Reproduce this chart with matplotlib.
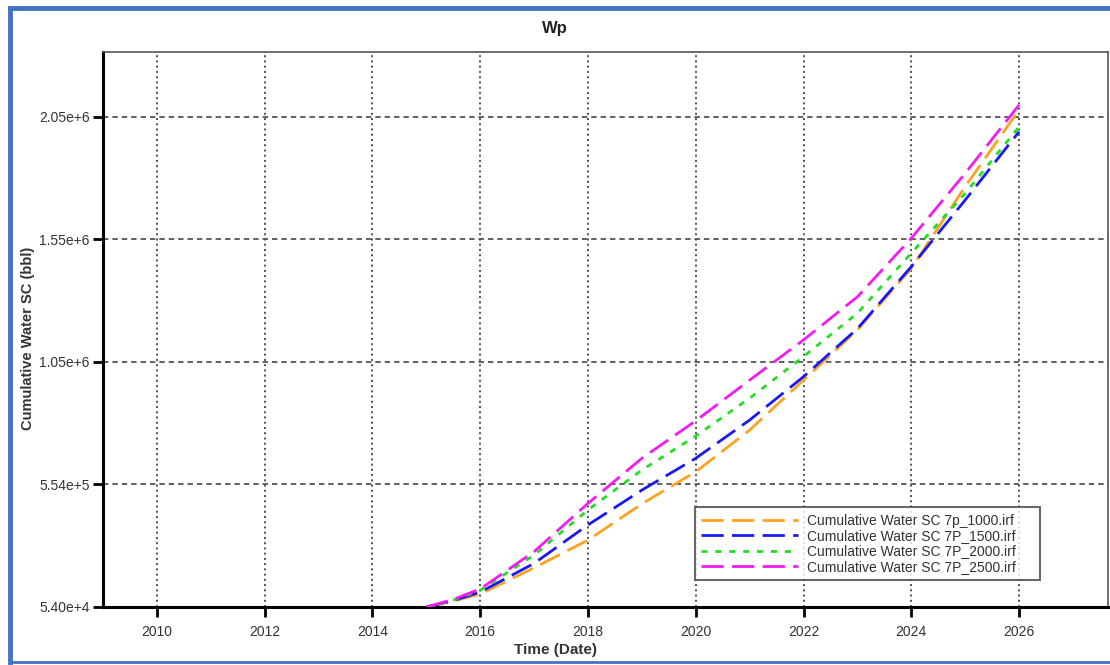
import matplotlib
matplotlib.use("Agg")
import matplotlib.pyplot as plt
from matplotlib.lines import Line2D

plt.rcParams['font.family'] = ['Liberation Sans', 'DejaVu Sans']

# Simulation report times (decimal years) and cumulative water production (bbl)
years = [2015.0, 2015.5, 2016, 2017, 2018, 2019, 2020, 2021, 2022, 2023, 2024, 2025, 2026]
wp_1000 = [54000, 78000, 107000, 214000, 327000, 475000, 606000, 776000, 980000, 1185000, 1436000, 1770000, 2083000]
wp_1500 = [54000, 80000, 115000, 232000, 389000, 531000, 661000, 817000, 994000, 1190000, 1443000, 1715000, 1994000]
wp_2000 = [54000, 82000, 122000, 266000, 450000, 613000, 752000, 906000, 1076000, 1253000, 1498000, 1742000, 2014000]
wp_2500 = [54000, 85000, 127500, 280000, 477000, 661000, 814000, 980000, 1144000, 1320000, 1559000, 1824000, 2103000]

series_labels = ["Cumulative Water SC 7p_1000.irf",
                 "Cumulative Water SC 7P_1500.irf",
                 "Cumulative Water SC 7P_2000.irf",
                 "Cumulative Water SC 7P_2500.irf"]
series_colors = ["#FFA21F", "#1A1AF0", "#22DD22", "#F31AF3"]

x_ticks = list(range(2010, 2027, 2))
y_ticks = [54000, 554000, 1054000, 1554000, 2054000]
y_tick_labels = ["5.40e+4", "5.54e+5", "1.05e+6", "1.55e+6", "2.05e+6"]

W, H = 1110, 665
fig = plt.figure(figsize=(W / 100, H / 100), dpi=100)
ax = fig.add_axes([103 / W, 1 - 607 / H, 1005 / W, 555 / H])

dash_styles = [(0, (8.0, 3.0)), (0, (8.0, 3.0)), (0, (2.2, 2.8)), (0, (8.0, 3.0))]
for vals, lab, col, ls in zip([wp_1000, wp_1500, wp_2000, wp_2500],
                              series_labels, series_colors, dash_styles):
    ax.plot(years, vals, color=col, lw=2.0, linestyle=ls, label=lab, zorder=3)

ax.set_xlim(2009.0, 2027.65)
ax.set_ylim(54000, 2.319e6)
ax.set_xticks(x_ticks)
ax.set_xticklabels([str(t) for t in x_ticks])
ax.set_yticks(y_ticks)
ax.set_yticklabels(y_tick_labels)

# Grid: dotted verticals, dashed horizontals
for xt in x_ticks:
    ax.axvline(xt, color="#444444", lw=1.3, linestyle=(0, (1.1, 1.8)), zorder=1)
for yt in y_ticks[1:]:
    ax.axhline(yt, color="#555555", lw=1.3, linestyle=(0, (3.0, 2.2)), zorder=1)

ax.tick_params(axis='both', direction='out', length=7.5, width=2.0, color='black',
               labelsize=10, labelcolor='#333333')
ax.tick_params(axis='x', pad=5.5)
ax.tick_params(axis='y', pad=2)

for side in ['left', 'bottom']:
    ax.spines[side].set_linewidth(2.2)
    ax.spines[side].set_color('black')
for side in ['top', 'right']:
    ax.spines[side].set_linewidth(1.2)
    ax.spines[side].set_color('#555555')

fig.text(555 / W, 1 - 28 / H, "Wp", fontsize=12, fontweight='bold', color='#222222',
         ha='center', va='center')
fig.text(555 / W, 1 - 650 / H, "Time (Date)", fontsize=11, fontweight='bold',
         color='#333333', ha='center', va='center')
fig.text(28 / W, 1 - 338 / H, "Cumulative Water SC (bbl)", fontsize=10.5,
         fontweight='bold', color='#333333', ha='center', va='center', rotation=90)

leg = ax.legend(loc='lower left', bbox_to_anchor=(0.589, 0.0486, 0.343, 0.135),
                mode='expand', borderaxespad=0.0, fontsize=10, frameon=True,
                fancybox=False, edgecolor='#444444', handlelength=7.0,
                handletextpad=0.6, borderpad=0.45, labelspacing=0.1)
leg.get_frame().set_linewidth(1.5)
for t in leg.get_texts():
    t.set_color('#333333')

# Blue frame around the figure
fig.add_artist(Line2D([10 / W, 10 / W], [1 - 8 / H, 1 - 662 / H],
                      transform=fig.transFigure, color='#4472C4', lw=3.5))
fig.add_artist(Line2D([10 / W, 1.0], [1 - 8 / H, 1 - 8 / H],
                      transform=fig.transFigure, color='#4472C4', lw=3.5))
fig.add_artist(Line2D([10 / W, 1.0], [1 - 662 / H, 1 - 662 / H],
                      transform=fig.transFigure, color='#4472C4', lw=2.0))

fig.savefig("out.png", dpi=100)
